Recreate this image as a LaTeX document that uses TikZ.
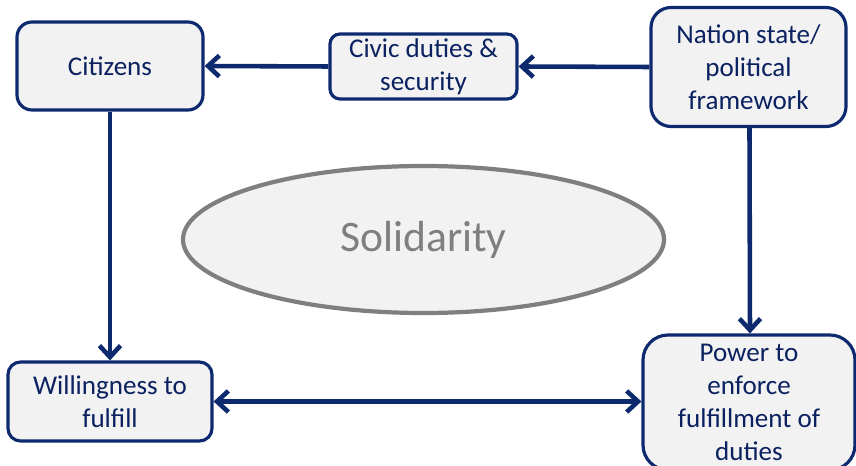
\documentclass[tikz,border=0pt]{standalone}
\usepackage{fontspec}
\setmainfont{Carlito}
\usetikzlibrary{arrows.meta,shapes.geometric}

\definecolor{navy}{HTML}{0E2A6E}
\definecolor{navytext}{HTML}{0B2160}
\definecolor{boxfill}{HTML}{F2F2F2}
\definecolor{ringgray}{HTML}{7F7F7F}

\begin{document}
\begin{tikzpicture}[scale=0.2]
\tikzstyle{every node}+=[inner sep=0pt]
\tikzstyle{box}=[draw=navy, line width=1.8pt, fill=boxfill, text=navytext, align=center,
  font=\fontsize{15.4}{18.8}\selectfont]
\tikzstyle{link}=[draw=navy, line width=2.6pt, -{Straight Barb[length=6.5pt,width=12pt]}]
\useasboundingbox (0,0) rectangle (85.6,-46.6);
% the five boxes
\node [box, rounded corners=0.3cm, minimum width=3.72cm, minimum height=1.76cm] (citizens) at (11.0,-6.6) {Citizens};
\node [box, rounded corners=0.2cm, minimum width=3.74cm, minimum height=1.3cm] (civic) at (42.35,-6.65) {Civic duties \&\\security};
\node [box, rounded corners=0.4cm, minimum width=3.9cm, minimum height=2.38cm] (nation) at (74.85,-6.7) {Nation state/\\political\\framework};
\node [box, rounded corners=0.25cm, minimum width=4.08cm, minimum height=1.58cm] (will) at (11.0,-40.15) {Willingness to\\fulfill};
\node [box, rounded corners=0.5cm, minimum width=4.24cm, minimum height=2.7cm] (power) at (74.9,-40.25) {Power to\\enforce\\fulfillment of\\duties};
% centre ellipse
\node [ellipse, draw=ringgray, line width=2.4pt, fill=boxfill, text=ringgray,
  minimum width=9.62cm, minimum height=2.94cm, font=\fontsize{24.8}{30}\selectfont] (solid) at (42.35,-23.95) {Solidarity};
% arrows
\draw [link] (nation.west) -- (civic.east);
\draw [link] (civic.west) -- (citizens.east);
\draw [link] (citizens.south) -- (will.north);
\draw [link] ([xshift=0.1cm]nation.south) -- ([xshift=0.1cm]power.north);
\draw [link, {Straight Barb[length=6.5pt,width=12pt]}-{Straight Barb[length=6.5pt,width=12pt]}] (will.east) -- (will.east -| power.west);
\end{tikzpicture}
\end{document}
